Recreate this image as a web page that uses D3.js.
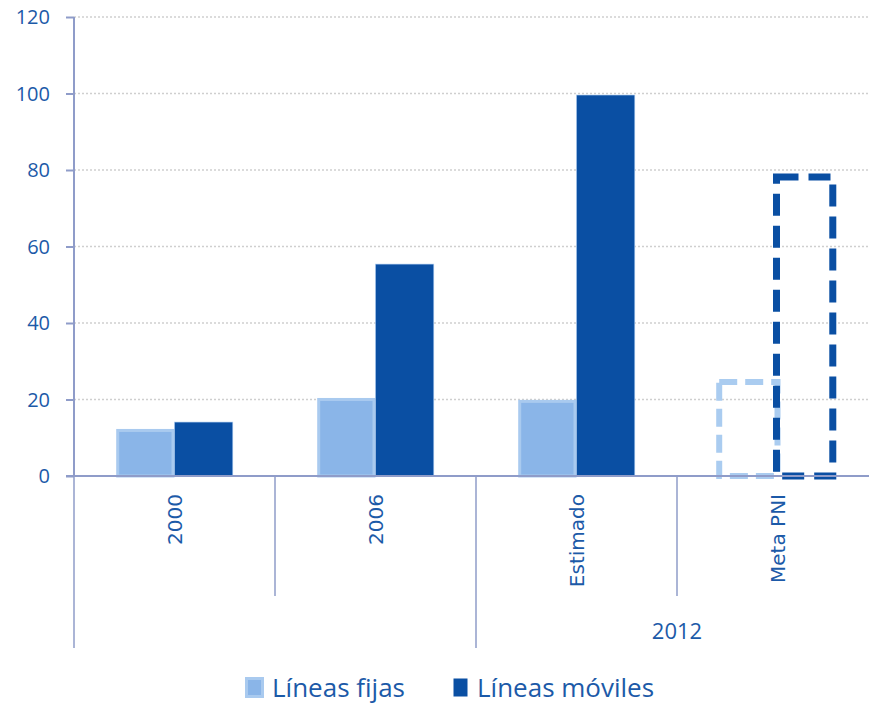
<!DOCTYPE html>
<html>
<head>
<meta charset="utf-8">
<title>Líneas fijas y móviles</title>
<script src="https://d3js.org/d3.v7.min.js"></script>
<style>
  body { margin: 0; background: #fff; }
</style>
</head>
<body>
<div id="chart"></div>
<script>
const categories = ["2000", "2006", "Estimado", "Meta PNI"];
const fijas = [12.3, 20.4, 19.9, 24.6];
const moviles = [14.1, 55.4, 99.6, 78.2];
const metaFlags = [false, false, false, true];
const groupLabels = [{ label: "2012", from: 2, to: 3 }];
const yTicks = [0, 20, 40, 60, 80, 100, 120];
const seriesNames = ["Líneas fijas", "Líneas móviles"];

const W = 869, H = 704;
const margin = { top: 17, right: -9, bottom: 228, left: 74 };
const w = W - margin.left - margin.right;
const h = H - margin.top - margin.bottom;

const lightFill = "#8AB5E8", lightStroke = "#A9CAEF", dark = "#0A4FA3";
const axisColor = "#8F9CC9", textColor = "#1C5AA8";

const svg = d3.select("#chart").append("svg")
  .attr("width", W).attr("height", H)
  .append("g")
  .attr("transform", "translate(" + margin.left + "," + margin.top + ")");

const x0 = d3.scaleBand().domain(categories).range([0, w]).padding(0);
const x1 = d3.scaleBand().domain(seriesNames)
  .range([x0.bandwidth() * 0.21, x0.bandwidth() * 0.79]).padding(0);
const y = d3.scaleLinear().domain([0, 120]).range([h, 0]);

// grid
svg.append("g").selectAll("line")
  .data(yTicks.filter(d => d > 0))
  .enter().append("line")
  .attr("x1", 0).attr("x2", w)
  .attr("y1", d => y(d)).attr("y2", d => y(d))
  .attr("stroke", "#CFCFCF").attr("stroke-width", 1.3)
  .attr("stroke-dasharray", "2,2");

const data = categories.map((c, i) => ({ cat: c, fijas: fijas[i], moviles: moviles[i], meta: metaFlags[i] }));

const groups = svg.selectAll(".grp").data(data).enter().append("g")
  .attr("transform", d => "translate(" + x0(d.cat) + ",0)");

// solid bars
groups.filter(d => !d.meta).append("rect")
  .attr("x", x1(seriesNames[0]) + 1.5).attr("width", x1.bandwidth() - 3)
  .attr("y", d => y(d.fijas) + 1.5).attr("height", d => h - y(d.fijas) - 1.5)
  .attr("fill", lightFill).attr("stroke", lightStroke).attr("stroke-width", 3);
groups.filter(d => !d.meta).append("rect")
  .attr("x", x1(seriesNames[1])).attr("width", x1.bandwidth())
  .attr("y", d => y(d.moviles)).attr("height", d => h - y(d.moviles))
  .attr("fill", dark).attr("stroke", "#A9CAEF").attr("stroke-width", 0.6);

// dashed target bars
groups.filter(d => d.meta).append("rect")
  .attr("x", x1(seriesNames[0])).attr("width", x1.bandwidth())
  .attr("y", d => y(d.fijas)).attr("height", d => h - y(d.fijas))
  .attr("fill", "none").attr("stroke", "#AACCF0").attr("stroke-width", 6)
  .attr("stroke-dasharray", "18,8");
groups.filter(d => d.meta).append("rect")
  .attr("x", x1(seriesNames[1]) - 1).attr("width", x1.bandwidth() - 2)
  .attr("y", d => y(d.moviles)).attr("height", d => h - y(d.moviles))
  .attr("fill", "none").attr("stroke", dark).attr("stroke-width", 7)
  .attr("stroke-dasharray", "22,10");

// y axis
const yAxis = d3.axisLeft(y).tickValues(yTicks).tickSize(8).tickFormat("");
const ya = svg.append("g").call(yAxis);
ya.select(".domain").attr("stroke", axisColor).attr("stroke-width", 2).attr("d", "M0," + h + "V0");
ya.selectAll(".tick line").attr("stroke", axisColor).attr("stroke-width", 2);

svg.append("g").selectAll("text").data(yTicks).enter().append("text")
  .attr("x", -24).attr("y", d => y(d)).attr("dy", "0.35em")
  .attr("text-anchor", "end").attr("fill", textColor)
  .style("font-family", "'Open Sans', sans-serif").style("font-size", "20px")
  .text(d => d);

// x axis baseline
svg.append("line").attr("x1", -8).attr("x2", w).attr("y1", h).attr("y2", h)
  .attr("stroke", axisColor).attr("stroke-width", 2);

// category separators
categories.forEach((c, i) => {
  const long = i === 0 || groupLabels.some(g => i === g.from);
  svg.append("line")
    .attr("x1", x0(c)).attr("x2", x0(c))
    .attr("y1", h).attr("y2", h + (long ? 172 : 120))
    .attr("stroke", axisColor).attr("stroke-width", 1.5);
});

// rotated category labels
svg.selectAll(".catlabel").data(categories).enter().append("text")
  .attr("transform", d => "translate(" + (x0(d) + x0.bandwidth() / 2 + 7) + "," + (h + 18) + ") rotate(-90)")
  .attr("text-anchor", "end")
  .attr("fill", textColor)
  .style("font-family", "'DejaVu Sans', sans-serif").style("font-size", "20px")
  .text(d => d);

// group labels
groupLabels.forEach(g => {
  const xa = x0(categories[g.from]);
  const xb = x0(categories[g.to]) + x0.bandwidth();
  svg.append("text")
    .attr("x", (xa + xb) / 2).attr("y", h + 163)
    .attr("text-anchor", "middle").attr("fill", textColor)
    .style("font-family", "'Liberation Sans Narrow', 'Open Sans', sans-serif").style("font-size", "22px")
    .text(g.label);
});

// legend
const leg = d3.select("svg").append("g");
const legItems = [
  { name: seriesNames[0], x: 245, fill: lightFill, stroke: lightStroke },
  { name: seriesNames[1], x: 452, fill: dark, stroke: dark }
];
legItems.forEach(it => {
  const first = it.name === seriesNames[0];
  leg.append("rect").attr("x", it.x + 1.5).attr("y", 678.5).attr("width", first ? 16 : 14).attr("height", 18)
    .attr("fill", it.fill).attr("stroke", it.stroke).attr("stroke-width", first ? 3 : 0);
  leg.append("text").attr("x", it.x + (first ? 27 : 25)).attr("y", 697)
    .attr("fill", textColor)
    .style("font-family", "'Liberation Sans Narrow', 'Open Sans', sans-serif").style("font-size", "26px")
    .text(it.name);
});
</script>
</body>
</html>
